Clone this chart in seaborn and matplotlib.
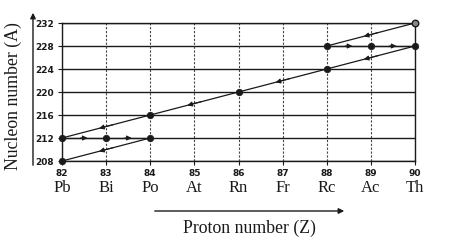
import matplotlib
matplotlib.use("Agg")
import matplotlib.pyplot as plt
import matplotlib.transforms as mtransforms
import seaborn as sns
import pandas as pd

# ---- data ----
proton_ticks = [82, 83, 84, 85, 86, 87, 88, 89, 90]
elements = ["Pb", "Bi", "Po", "At", "Rn", "Fr", "Rc", "Ac", "Th"]
nucleon_ticks = [208, 212, 216, 220, 224, 228, 232]

# decay chain nuclides (Z, A) in order of decay
chain_Z = [90, 88, 89, 90, 88, 86, 84, 82, 83, 84, 82]
chain_A = [232, 228, 228, 228, 224, 220, 216, 212, 212, 212, 208]
# decay steps: pairs of indices (from -> to)
steps = [(0, 1), (1, 2), (2, 3), (3, 4), (4, 5), (5, 6), (6, 7),
         (7, 8), (8, 9), (9, 10)]

sns.set_theme(style="white")
plt.rcParams['font.family'] = ['DejaVu Sans']

fig = plt.figure(figsize=(4.6, 2.47), dpi=100)
ax = fig.add_axes([62/460, 1-161/247, (415-62)/460, (161-23)/247])

ink = "#1a1a1a"

# grid
for a in nucleon_ticks:
    ax.axhline(a, color=ink, lw=1.0, zorder=1)
for z in proton_ticks:
    ax.axvline(z, color="#444444", lw=0.8, ls=(0, (2, 1.5)), zorder=1)

# decay path segments
rows = []
for k, (i, j) in enumerate(steps):
    rows.append(dict(seg=k, Z=chain_Z[i], A=chain_A[i], o=0))
    rows.append(dict(seg=k, Z=chain_Z[j], A=chain_A[j], o=1))
seg_df = pd.DataFrame(rows)
sns.lineplot(data=seg_df, x="Z", y="A", units="seg", estimator=None,
             sort=False, color=ink, lw=0.9, ax=ax, zorder=2)

# arrowheads at midpoints
for i, j in steps:
    z0, a0, z1, a1 = chain_Z[i], chain_A[i], chain_Z[j], chain_A[j]
    mz, ma = (z0 + z1) / 2, (a0 + a1) / 2
    dz, da = (z1 - z0) * 0.08, (a1 - a0) * 0.08
    ax.annotate("", xy=(mz + dz, ma + da), xytext=(mz - dz, ma - da),
                arrowprops=dict(arrowstyle="-|>", color=ink, lw=0.8,
                                mutation_scale=7, shrinkA=0, shrinkB=0),
                zorder=3)

pts = pd.DataFrame(dict(Z=chain_Z, A=chain_A))
sns.scatterplot(data=pts.iloc[1:], x="Z", y="A", color=ink, s=22,
                edgecolor=ink, linewidth=0.5, ax=ax, zorder=4)
sns.scatterplot(data=pts.iloc[:1], x="Z", y="A", color="#888888", s=22,
                edgecolor=ink, linewidth=1.0, ax=ax, zorder=4)
for c in ax.collections:
    c.set_clip_on(False)

ax.set_xlim(82, 90)
ax.set_ylim(208, 232)
ax.set_xticks(proton_ticks)
ax.set_xticklabels([str(z) for z in proton_ticks], fontsize=6.5,
                   fontweight="bold", color=ink)
ax.set_yticks(nucleon_ticks)
ax.set_yticklabels([str(a) for a in nucleon_ticks], fontsize=6.5,
                   fontweight="bold", color=ink)
ax.tick_params(axis="both", length=3, width=0.8, pad=3, color=ink,
               direction="out", bottom=True, left=True)
ax.set_xlabel("")
ax.set_ylabel("")
for s in ax.spines.values():
    s.set_color(ink)
    s.set_linewidth(1.0)

# element names under tick numbers
trans = mtransforms.blended_transform_factory(ax.transData, fig.transFigure)
for z, el in zip(proton_ticks, elements):
    ax.text(z, 1 - 188/247, el, transform=trans, ha="center", va="center",
            fontsize=12, family="Liberation Serif", color=ink)

# axis titles with arrows
fig.text(13/460, 1 - 96/247, "Nucleon number (A)", rotation=90,
         ha="center", va="center", fontsize=12.8, family="Liberation Serif",
         color=ink)
fig.patches.append(matplotlib.patches.FancyArrowPatch(
    (33/460, 1 - 168/247), (33/460, 1 - 10/247), transform=fig.transFigure,
    arrowstyle="-|>", mutation_scale=8, color=ink, lw=1.0))
fig.patches.append(matplotlib.patches.FancyArrowPatch(
    (152/460, 1 - 211/247), (347/460, 1 - 211/247), transform=fig.transFigure,
    arrowstyle="-|>", mutation_scale=8, color=ink, lw=1.0))
fig.text(249/460, 1 - 228/247, "Proton number (Z)", ha="center",
         va="center", fontsize=12.8, family="Liberation Serif", color=ink)

fig.savefig("out.png", dpi=100, facecolor="white")
